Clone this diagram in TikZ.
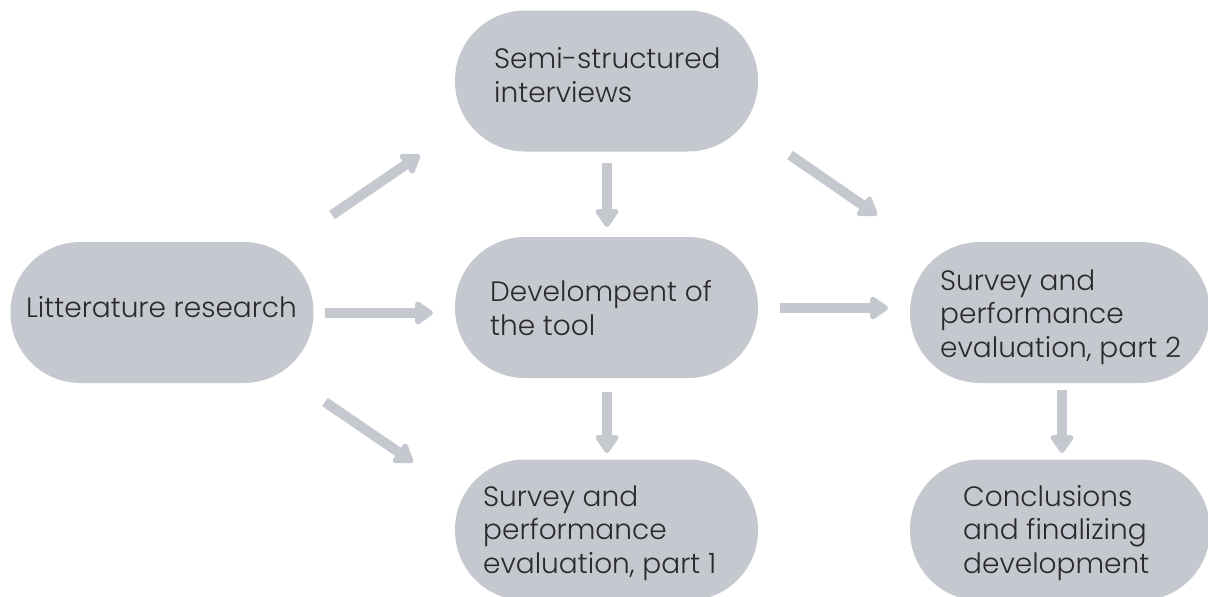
\documentclass[tikz,border=0pt]{standalone}
\usepackage{fontspec}
\setmainfont{Poppins Light}
\usetikzlibrary{arrows.meta}
\definecolor{boxgray}{RGB}{197,200,206}
\definecolor{ink}{RGB}{42,42,44}
\begin{document}
\begin{tikzpicture}[x=1pt,y=-1pt,
  stage/.style={fill=boxgray, draw=none, rounded corners=70pt, inner sep=0pt,
    minimum width=303pt, minimum height=141pt},
  stagetext/.style={anchor=base west, align=left, inner sep=0pt,
    font=\fontsize{28}{33.5}\selectfont, text=ink},
  flow/.style={draw=boxgray, line width=10pt,
    -{Triangle[width=26pt,length=20pt,round]}}
]
\useasboundingbox (0,0) rectangle (1208,597);
\clip (0,0) rectangle (1208,597);

% stages of the work
\node[stage] (lit)   at (162,312.5)  {};
\node[stage] (semi)  at (606.5,81)   {};
\node[stage] (dev)   at (606.5,307.5) {};
\node[stage] (surv1) at (606.5,530)  {};
\node[stage, minimum width=300pt] (surv2) at (1060,312.5) {};
\node[stage, minimum width=300pt] (concl) at (1060,530)   {};

% their captions, placed by the baseline of the last line
\node[stagetext] (litt)   at (26,317)  {Litterature research};
\node[stagetext] (semit)  at (494,102) {Semi-structured\\interviews};
\node[stagetext] (devt)   at (490,335) {Develompent of\\the tool};
\node[stagetext] (surv1t) at (483,573) {Survey and\\performance\\evaluation, part 1};
\node[stagetext] (surv2t) at (940,357) {Survey and\\performance\\evaluation, part 2};
\node[stagetext] (conclt) at (963,573) {Conclusions\\and finalizing\\development};

% arrow end points in the gaps between the stages
\coordinate (a1s) at (332,215);  \coordinate (a1e) at (420,155);
\coordinate (a2s) at (325,313);  \coordinate (a2e) at (433,313);
\coordinate (a3s) at (325,402);  \coordinate (a3e) at (413,462);
\coordinate (a4s) at (607,163);  \coordinate (a4e) at (607,227);
\coordinate (a5s) at (790,155);  \coordinate (a5e) at (877,215);
\coordinate (a6s) at (780,308);  \coordinate (a6e) at (888,308);
\coordinate (a7s) at (607,392);  \coordinate (a7e) at (607,453);
\coordinate (a8s) at (1062,390); \coordinate (a8e) at (1062,453);

\draw[flow] (a1s) -- (a1e);
\draw[flow] (a2s) -- (a2e);
\draw[flow] (a3s) -- (a3e);
\draw[flow] (a4s) -- (a4e);
\draw[flow] (a5s) -- (a5e);
\draw[flow] (a6s) -- (a6e);
\draw[flow] (a7s) -- (a7e);
\draw[flow] (a8s) -- (a8e);
\end{tikzpicture}
\end{document}
